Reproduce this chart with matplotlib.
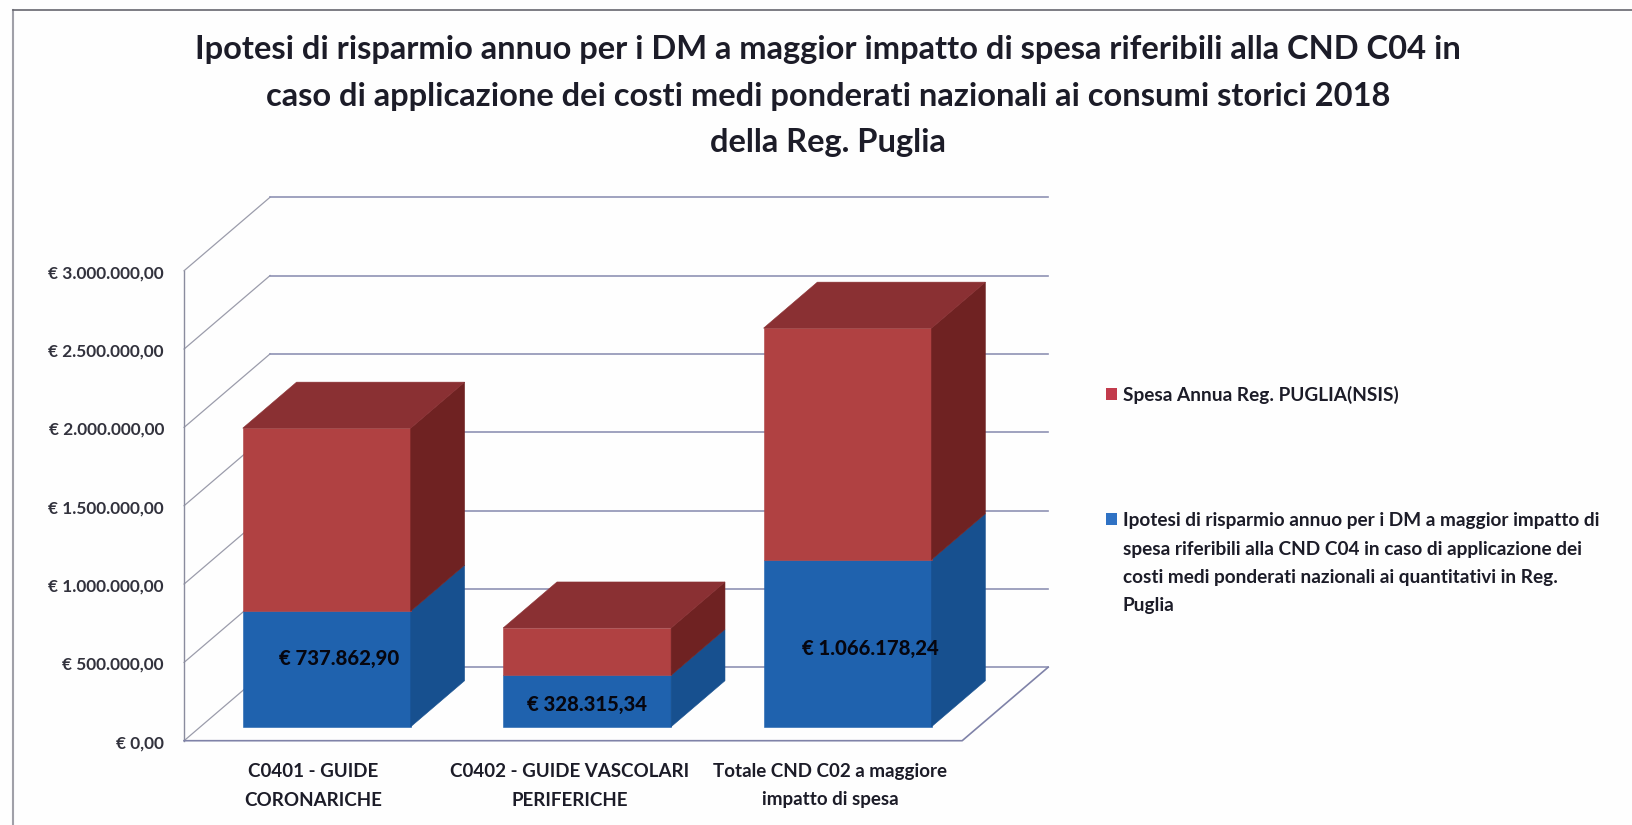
import matplotlib
matplotlib.use("Agg")
import matplotlib.pyplot as plt
from matplotlib.patches import Polygon, Rectangle

plt.rcParams['font.family'] = ['Lato', 'DejaVu Sans']

# === data ===
categories = ["C0401 - GUIDE\nCORONARICHE", "C0402 - GUIDE VASCOLARI\nPERIFERICHE", "Totale CND C02 a maggiore\nimpatto di spesa"]
risparmio = [737862.90, 328315.34, 1066178.24]
spesa_extra = [1168000, 302000, 1478000]  # red part on top of the blue one
value_labels = ["€ 737.862,90", "€ 328.315,34", "€ 1.066.178,24"]
y_ticks = [0, 500000, 1000000, 1500000, 2000000, 2500000, 3000000]
y_tick_labels = ["€ 0,00", "€ 500.000,00", "€ 1.000.000,00", "€ 1.500.000,00", "€ 2.000.000,00", "€ 2.500.000,00", "€ 3.000.000,00"]
legend_red = "Spesa Annua Reg. PUGLIA(NSIS)"
legend_blue = ["Ipotesi di risparmio annuo per i DM a maggior impatto di",
               "spesa riferibili alla CND C04 in caso di applicazione dei",
               "costi medi ponderati nazionali ai quantitativi in Reg.",
               "Puglia"]
title_lines = ["Ipotesi di risparmio annuo per i DM a maggior impatto di spesa riferibili alla CND C04 in",
               "caso di applicazione dei costi medi ponderati nazionali ai consumi storici 2018",
               "della Reg. Puglia"]

W, H = 1632, 825
fig = plt.figure(figsize=(W / 100, H / 100), dpi=100, facecolor="#fefefe")
ax = fig.add_axes([0, 0, 1, 1])
ax.axis("off")

# scales: x in categories, y in euro, filling the whole figure
px_per_cat = 260.4
px_per_eur = 470 / 3000000
x0_px, y0_px = 310.4, 740.7
ax.set_xlim(-x0_px / px_per_cat, (W - x0_px) / px_per_cat)
ax.set_ylim(-(H - y0_px) / px_per_eur, y0_px / px_per_eur)

# depth of the 3D box, in data units
DX = 86 / px_per_cat
DY = 73.5 / px_per_eur
left, right = -0.485, 2.503


def proj(x, v, d):
    return (x + d * DX, v + d * DY)


def px_text(x, y, s, **kw):
    fig.text(x / W, 1 - y / H, s, va="center", color=kw.pop("color", "#1c1c28"),
             fontweight=kw.pop("fontweight", "bold"), **kw)


# walls
for v in y_ticks:
    p0 = proj(left, v, 0)
    p1 = proj(left, v, 1)
    p2 = proj(right, v, 1)
    ax.plot([p0[0], p1[0]], [p0[1], p1[1]], color="#9b9cab", lw=0.9, zorder=1)
    ax.plot([p1[0], p2[0]], [p1[1], p2[1]], color="#8f92b4", lw=1.2, zorder=1)
ax.plot([left, left], [0, 3000000], color="#8a8c9e", lw=1.0, zorder=1)
fr = proj(right, 0, 1)
ax.plot([left, right, fr[0]], [0, 0, fr[1]], color="#7f82a8", lw=1.2, zorder=1)

# bars
bar_w = 168 / px_per_cat
d0, d1 = 0.19, 0.19 + 0.626


def box(x, v0, v1, front, side, top=None):
    xa, xb = x - bar_w / 2, x + bar_w / 2
    faces = [([proj(xa, v0, d0), proj(xb, v0, d0), proj(xb, v1, d0), proj(xa, v1, d0)], front),
             ([proj(xb, v0, d0), proj(xb, v0, d1), proj(xb, v1, d1), proj(xb, v1, d0)], side)]
    if top:
        faces.append(([proj(xa, v1, d0), proj(xb, v1, d0), proj(xb, v1, d1), proj(xa, v1, d1)], top))
    for pts, c in faces:
        ax.add_patch(Polygon(pts, closed=True, facecolor=c, edgecolor=c, lw=0.4, zorder=3))


for i in range(len(categories)):
    box(i, 0, risparmio[i], "#1f62ae", "#17508f")
    box(i, risparmio[i], risparmio[i] + spesa_extra[i], "#b04142", "#6f2222", "#8a3033")

# text
for v, lab in zip(y_ticks, y_tick_labels):
    px_text(164, y0_px - v * px_per_eur + 2.5, lab, ha="right", fontsize=12.4, alpha=0.9)

for cx, lab in zip([313, 570, 830], categories):
    a, b = lab.split("\n")
    px_text(cx, 771.5, a, ha="center", fontsize=13.5)
    px_text(cx, 800, b, ha="center", fontsize=13.5)

for (cx, cy), lab in zip([(339, 659), (587, 704), (870, 648)], value_labels):
    px_text(cx, cy, lab, ha="center", fontsize=14.6, color="#06060f", fontweight="black")

for y, line in zip([50, 96.5, 142.5], title_lines):
    px_text(828, y, line, ha="center", fontsize=23.5)

# legend
fig.patches.append(Rectangle((1106 / W, 1 - 400 / H), 11 / W, 12 / H, transform=fig.transFigure, facecolor="#c23b4c"))
fig.patches.append(Rectangle((1106 / W, 1 - 525 / H), 11 / W, 12 / H, transform=fig.transFigure, facecolor="#2f72c4"))
px_text(1123, 395, legend_red, ha="left", fontsize=13.7)
for y, line in zip([520.5, 549, 577.5, 606], legend_blue):
    px_text(1123, y, line, ha="left", fontsize=13.7)

# frame of the scanned page
fig.add_artist(plt.Line2D([13 / W, 13 / W], [0, 1 - 10 / H], color="#a0a0a8", lw=1.5))
fig.add_artist(plt.Line2D([13 / W, 1], [1 - 10 / H, 1 - 10 / H], color="#66666e", lw=1.2))

fig.savefig("out.png", dpi=100, facecolor=fig.get_facecolor())
